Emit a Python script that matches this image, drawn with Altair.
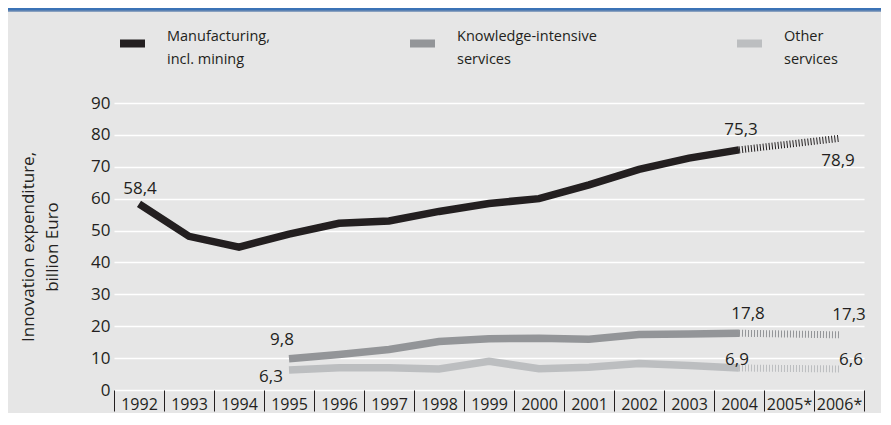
import altair as alt
import pandas as pd

# ---- data ----
years = ["1992", "1993", "1994", "1995", "1996", "1997", "1998", "1999",
         "2000", "2001", "2002", "2003", "2004", "2005*", "2006*"]
manuf_years = years[0:13]
manuf_vals = [58.4, 48.2, 44.8, 48.9, 52.3, 53.0, 56.0, 58.5, 60.0, 64.3, 69.2, 72.7, 75.3]
serv_years = years[3:13]
know_vals = [9.8, 11.1, 12.7, 15.2, 16.1, 16.2, 15.9, 17.4, 17.6, 17.8]
other_vals = [6.3, 7.0, 7.0, 6.6, 9.0, 6.7, 7.1, 8.3, 7.7, 6.9]
fc_years = ["2004", "2006*"]
manuf_fc = [75.3, 78.9]
know_fc = [17.8, 17.3]
other_fc = [6.9, 6.6]

series_names = ["Manufacturing,|incl. mining", "Knowledge-intensive|services", "Other|services"]
series_colors = ["#231f20", "#939598", "#bcbec0"]
y_ticks = [0, 10, 20, 30, 40, 50, 60, 70, 80, 90]
y_title = ["Innovation expenditure,", "billion Euro"]

TXT = "#231f20"
FONT = "Open Sans"

actual = pd.DataFrame(
    [{"year": y, "value": v, "series": series_names[0]} for y, v in zip(manuf_years, manuf_vals)]
    + [{"year": y, "value": v, "series": series_names[1]} for y, v in zip(serv_years, know_vals)]
    + [{"year": y, "value": v, "series": series_names[2]} for y, v in zip(serv_years, other_vals)]
)
forecast = pd.DataFrame(
    [{"year": y, "value": v, "series": series_names[0]} for y, v in zip(fc_years, manuf_fc)]
    + [{"year": y, "value": v, "series": series_names[1]} for y, v in zip(fc_years, know_fc)]
    + [{"year": y, "value": v, "series": series_names[2]} for y, v in zip(fc_years, other_fc)]
)

x_scale = alt.Scale(type="band", domain=years, paddingInner=0, paddingOuter=0)
y_scale = alt.Scale(domain=[0, 90], nice=False, zero=True)

x_axis = alt.Axis(title=None, tickBand="extent", domain=False, ticks=True,
                  tickColor=TXT, tickSize=21, tickWidth=1, labelFontSize=16,
                  labelPadding=-15, labelColor=TXT, labelAngle=0, grid=False,
                  labelOverlap=False, labelFont=FONT)
y_axis = alt.Axis(values=y_ticks, grid=True, gridColor="white", gridWidth=1.5,
                  domain=False, ticks=False, labelFontSize=17, labelColor=TXT,
                  labelPadding=4, labelOverlap=False, title=y_title, titleFontSize=17,
                  titleFontWeight="normal", titleColor=TXT, titlePadding=29,
                  titleLineHeight=24, labelFont=FONT, titleFont=FONT)

x_enc = alt.X("year:N", scale=x_scale, bandPosition=0.5, axis=x_axis)
y_enc = alt.Y("value:Q", scale=y_scale, axis=y_axis)

legend = alt.Legend(orient="none", legendX=2, legendY=-76, direction="horizontal", title=None,
                    labelExpr="split(datum.label, '|')", symbolType="M-1,0H1", symbolSize=625,
                    symbolStrokeWidth=8, labelFontSize=14.5, labelColor=TXT, labelOffset=18,
                    labelBaseline="bottom",
                    columnPadding=124, padding=0, labelLimit=400, labelFont=FONT)
color_enc = alt.Color("series:N", scale=alt.Scale(domain=series_names, range=series_colors),
                      legend=legend)

solid = alt.Chart(actual).mark_line(strokeWidth=7.5, strokeCap="butt").encode(
    x=x_enc, y=y_enc, color=color_enc, detail="series:N")
dashed = alt.Chart(forecast).mark_line(strokeWidth=7, strokeDash=[1, 2], strokeCap="butt").encode(
    x=x_enc, y=y_enc, color=color_enc, detail="series:N")

lookup = {
    "m": dict(zip(manuf_years, manuf_vals)),
    "k": dict(zip(serv_years, know_vals)),
    "o": dict(zip(serv_years, other_vals)),
}
lookup["m"]["2006*"] = manuf_fc[1]
lookup["k"]["2006*"] = know_fc[1]
lookup["o"]["2006*"] = other_fc[1]

# (series, year, dx, dy) – label placement styles
label_specs = [
    ("m", "1992", 1, -10), ("m", "2004", 2, -15), ("m", "2006*", -1, 28),
    ("k", "1995", -7, -14), ("o", "1995", -18, 12),
    ("k", "2004", 9, -14), ("k", "2006*", 10, -15),
    ("o", "2004", -2, -3), ("o", "2006*", 12, -4),
]
text_layers = []
for s, yr, dx, dy in label_specs:
    v = lookup[s][yr]
    df = pd.DataFrame({"year": [yr], "value": [v], "label": [f"{v:.1f}".replace(".", ",")]})
    text_layers.append(
        alt.Chart(df).mark_text(dx=dx, dy=dy, fontSize=17, color=TXT, font=FONT,
                                baseline="alphabetic", align="center").encode(
            x=x_enc, y=y_enc, text="label:N")
    )

header = alt.Chart(pd.DataFrame({"a": [0]})).mark_rect(color="#3b73b6").encode(
    x=alt.value(-106), x2=alt.value(767), y=alt.value(-95), y2=alt.value(-92.5))
header_line = alt.Chart(pd.DataFrame({"a": [0]})).mark_rect(color="#2a5a98").encode(
    x=alt.value(-106), x2=alt.value(767), y=alt.value(-92.5), y2=alt.value(-91.5))

chart = alt.layer(solid, dashed, *text_layers, header, header_line).properties(
    width=750, height=287,
    padding={"left": 106, "top": 95, "right": 17, "bottom": 23},
    autosize=alt.AutoSizeParams(type="none"),
).configure(
    background="#e6e6e6",
    font=FONT,
    style={"guide-label": {"lineHeight": 23}},
).configure_view(stroke=None)

chart.save("out.html", embed_options={"renderer": "svg", "actions": False})
